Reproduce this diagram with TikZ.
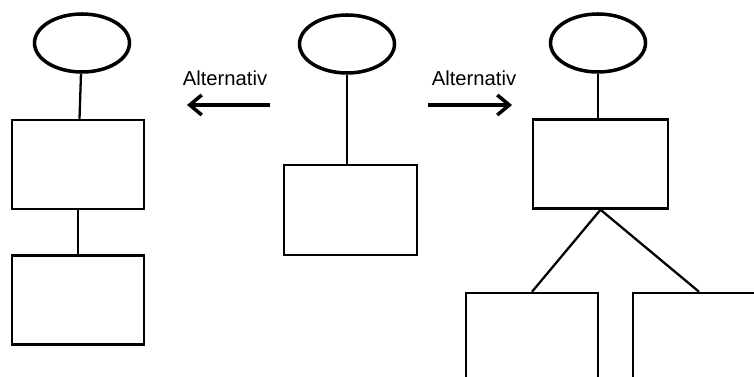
\documentclass[tikz,border=0pt]{standalone}
\usepackage{fontspec}
\setmainfont{Liberation Sans}
\usetikzlibrary{shapes.geometric,arrows.meta}

\begin{document}
\begin{tikzpicture}[inner sep=0pt, font=\fontsize{11.5}{13}\selectfont]
    \tikzstyle{top} = [ellipse, draw, line width=2pt, minimum width=1.9cm, minimum height=1.16cm]
    \tikzstyle{box} = [rectangle, draw, line width=1.4pt, minimum width=2.64cm, minimum height=1.78cm]
    \tikzstyle{link} = [line width=1.3pt]
    \tikzstyle{alt} = [line width=2pt, -{Straight Barb[length=2.4mm, width=4mm, line width=2pt]}]

    \useasboundingbox (0, 0) rectangle (15.08, 7.54);
    \clip (0, 0) rectangle (15.08, 7.54);

    % left alternative
    \node [top] (a) at (1.64, 6.68) {};
    \node [box] (b) at (1.56, 4.25) {};
    \node [box] (c) at (1.56, 1.54) {};

    % start
    \node [top] (d) at (6.94, 6.66) {};
    \node [box, minimum width=2.66cm, minimum height=1.8cm] (e) at (7.01, 3.34) {};

    % right alternative
    \node [top] (f) at (11.96, 6.68) {};
    \node [box, minimum width=2.7cm] (g) at (12.01, 4.26) {};
    \node [box, minimum height=1.8cm] (h) at (10.64, 0.78) {};
    \node [box, minimum height=1.8cm] (i) at (13.98, 0.78) {};

    % arrows
    \coordinate (p) at (5.40, 5.44);
    \coordinate (q) at (3.74, 5.44);
    \coordinate (r) at (8.56, 5.44);
    \coordinate (s) at (10.24, 5.44);
    \node (u) at (4.50, 5.98) {Alternativ};
    \node (v) at (9.48, 5.98) {Alternativ};

    \draw [alt] (p) -- (q);
    \draw [alt] (r) -- (s);

    \draw [link] (a) -- (b);
    \draw [link] (b) -- (c);

    \draw [link] (d.south) -- (d.south |- e.north);

    \draw [link] (f.south) -- (f.south |- g.north);
    \draw [link] (g.south) -- (h.north);
    \draw [link] (g.south) -- (i.north);
\end{tikzpicture}
\end{document}
